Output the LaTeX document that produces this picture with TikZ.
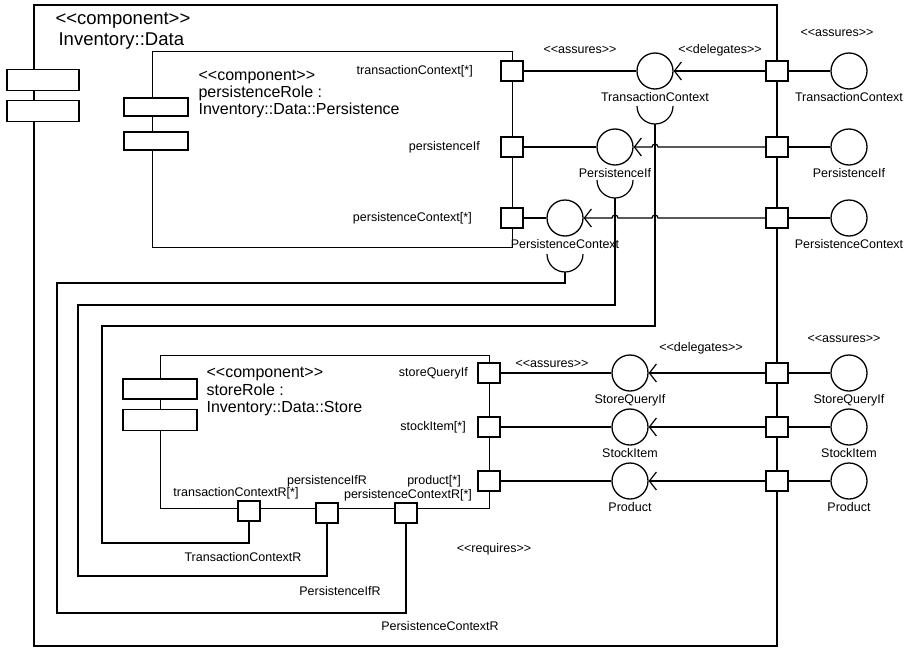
\documentclass[tikz,border=0pt]{standalone}
\usepackage{fontspec}
\setmainfont{Liberation Sans}
\usetikzlibrary{positioning,arrows.meta,calc}
\newcommand{\stereo}[1]{<\kern0pt<#1>\kern0pt>}

\begin{document}
\begin{tikzpicture}[x=1pt,y=-1pt,line width=1.2pt,
  lbl/.style={font=\fontsize{12.5}{14}\selectfont,inner sep=1pt},
  bigttl/.style={font=\fontsize{18.5}{21}\selectfont,anchor=base west,inner sep=0pt},
  ttl/.style={font=\fontsize{16}{17}\selectfont,anchor=base west,inner sep=0pt},
  box/.style={draw,line width=1.5pt,anchor=north west,inner sep=0pt,outer sep=0pt},
  icon/.style={draw,fill=white,line width=1.3pt,minimum width=64pt,minimum height=18pt,inner sep=0pt},
  port/.style={draw,fill=white,line width=1.3pt,minimum width=22pt,minimum height=20pt,inner sep=0pt},
  ball/.style={draw,circle,line width=1.3pt,minimum size=36pt,inner sep=0pt},
  dlg/.style={-{Straight Barb[length=7pt,width=18pt]}}]
\useasboundingbox (0,0) rectangle (915,648);
% outer component
\node[box,line width=1.8pt,minimum width=743pt,minimum height=641pt] (inv) at (34,5) {};
\node[icon,minimum width=72pt,minimum height=21pt] (invIconA) at (43,80) {};
\node[icon,minimum width=72pt,minimum height=21pt] (invIconB) at (43,111) {};
\node[bigttl] (invSt) at (55,24) {\stereo{component}};
\node[bigttl] (invName) at (58,45) {Inventory::Data};
% persistence part
\node[box,minimum width=360pt,minimum height=196pt] (pers) at (152.5,51.5) {};
\node[icon] (persIconA) at (156,107) {};
\node[icon] (persIconB) at (156,141) {};
\node[ttl] (persSt) at (198,80) {\stereo{component}};
\node[ttl] (persRole) at (198,97) {persistenceRole :};
\node[ttl] (persName) at (198,114) {Inventory::Data::Persistence};
\node[port] (pTx) at (512,71) {};
\node[port] (pIf) at (512,147) {};
\node[port] (pPc) at (512,218) {};
\node[lbl,left=26pt of pTx] (pTxLbl) {transactionContext[*]};
\node[lbl,left=19pt of pIf] (pIfLbl) {persistenceIf};
\node[lbl,left=27pt of pPc] (pPcLbl) {persistenceContext[*]};
\node[ball] (tcBall) at (655,71) {};
\node[lbl,below=1pt of tcBall] (tcLbl) {TransactionContext};
\node[ball] (ifBall) at (615,147) {};
\node[lbl,below=1pt of ifBall] (ifLbl) {PersistenceIf};
\node[ball] (pcBall) at (565,218) {};
\node[lbl,below=1pt of pcBall] (pcLbl) {PersistenceContext};
\coordinate (tcSock) at (655,124);
\coordinate (ifSock) at (615,198);
\coordinate (pcSock) at (565,272);
\draw ([shift={(-18pt,18pt)}]tcSock) arc[start angle=180,end angle=360,radius=18pt];
\draw ([shift={(-18pt,18pt)}]ifSock) arc[start angle=180,end angle=360,radius=18pt];
\draw ([shift={(-18pt,18pt)}]pcSock) arc[start angle=180,end angle=360,radius=18pt];
\node[lbl] (asTop) at (580,50) {\stereo{assures}};
\node[lbl] (dlTop) at (720,50) {\stereo{delegates}};
% outer ports, top
\node[port] (oTx) at (777,71) {};
\node[port] (oIf) at (777,147) {};
\node[port] (oPc) at (777,218) {};
\node[ball] (oTxBall) at (849,71) {};
\node[lbl,below=1pt of oTxBall] (oTxLbl) {TransactionContext};
\node[ball] (oIfBall) at (849,147) {};
\node[lbl,below=1pt of oIfBall] (oIfLbl) {PersistenceIf};
\node[ball] (oPcBall) at (849,218) {};
\node[lbl,below=1pt of oPcBall] (oPcLbl) {PersistenceContext};
\node[lbl] (asTopR) at (837,33) {\stereo{assures}};
% store part
\node[box,minimum width=329pt,minimum height=153pt] (store) at (160.5,355.5) {};
\node[icon,minimum width=74pt,minimum height=20pt] (storeIconA) at (160,389) {};
\node[icon,minimum width=74pt,minimum height=21pt] (storeIconB) at (160,420) {};
\node[ttl] (storeSt) at (206,377) {\stereo{component}};
\node[ttl] (storeRole) at (206,395) {storeRole :};
\node[ttl] (storeName) at (206,412) {Inventory::Data::Store};
\node[port] (pSq) at (489,373) {};
\node[port] (pSi) at (489,427) {};
\node[port] (pPr) at (489,481) {};
\node[lbl,left=8pt of pSq] (pSqLbl) {storeQueryIf};
\node[lbl,left=10pt of pSi] (pSiLbl) {stockItem[*]};
\node[lbl,left=15pt of pPr] (pPrLbl) {product[*]};
\node[port] (tcR) at (249,511) {};
\node[port] (ifR) at (327,513) {};
\node[port] (pcR) at (406,513) {};
\node[lbl,above=0pt of tcR,xshift=-13pt] (tcRLbl) {transactionContextR[*]};
\node[lbl,above=14pt of ifR] (ifRLbl) {persistenceIfR};
\node[lbl,above=0pt of pcR,xshift=2pt] (pcRLbl) {persistenceContextR[*]};
\node[ball] (sqBall) at (630,373) {};
\node[lbl,below=1pt of sqBall] (sqLbl) {StoreQueryIf};
\node[ball] (siBall) at (630,427) {};
\node[lbl,below=1pt of siBall] (siLbl) {StockItem};
\node[ball] (prBall) at (630,481) {};
\node[lbl,below=1pt of prBall] (prLbl) {Product};
\node[lbl] (asLow) at (552,364) {\stereo{assures}};
\node[lbl] (dlLow) at (701,348) {\stereo{delegates}};
\node[lbl] (rqLow) at (494,549) {\stereo{requires}};
% outer ports, bottom
\node[port] (oSq) at (777,373) {};
\node[port] (oSi) at (777,427) {};
\node[port] (oPr) at (777,481) {};
\node[ball] (oSqBall) at (849,373) {};
\node[lbl,below=1pt of oSqBall] (oSqLbl) {StoreQueryIf};
\node[ball] (oSiBall) at (849,427) {};
\node[lbl,below=1pt of oSiBall] (oSiLbl) {StockItem};
\node[ball] (oPrBall) at (849,481) {};
\node[lbl,below=1pt of oPrBall] (oPrLbl) {Product};
\node[lbl] (asLowR) at (844,339) {\stereo{assures}};
% required side labels
\node[lbl] (tcRName) at (243,557) {TransactionContextR};
\node[lbl] (ifRName) at (340,591) {PersistenceIfR};
\node[lbl] (pcRName) at (440,626) {PersistenceContextR};
% assembly and delegation
\draw (pTx.east) -- (tcBall.west);
\draw (pIf.east) -- (ifBall.west);
\draw (pPc.east) -- (pcBall.west);
\draw[dlg] (oTx.west) -- (tcBall.east);
\draw[dlg] (oIf.west) -- (658,147) arc[start angle=0,end angle=180,radius=3pt] -- (ifBall.east);
\draw[dlg] (oPc.west) -- (658,218) arc[start angle=0,end angle=180,radius=3pt]
  -- (618,218) arc[start angle=0,end angle=180,radius=3pt] -- (pcBall.east);
\draw (oTx.east) -- (oTxBall.west);
\draw (oIf.east) -- (oIfBall.west);
\draw (oPc.east) -- (oPcBall.west);
\draw (pSq.east) -- (sqBall.west);
\draw (pSi.east) -- (siBall.west);
\draw (pPr.east) -- (prBall.west);
\draw[dlg] (oSq.west) -- (sqBall.east);
\draw[dlg] (oSi.west) -- (siBall.east);
\draw[dlg] (oPr.west) -- (prBall.east);
\draw (oSq.east) -- (oSqBall.west);
\draw (oSi.east) -- (oSiBall.west);
\draw (oPr.east) -- (oPrBall.west);
% required connections
\draw (tcSock) -- (655,326) -| (102,543) -| (tcR.south);
\draw (ifSock) -- (615,305) -| (78,576) -| (ifR.south);
\draw (pcSock) -- (565,283) -| (57,613) -| (pcR.south);
\end{tikzpicture}
\end{document}
